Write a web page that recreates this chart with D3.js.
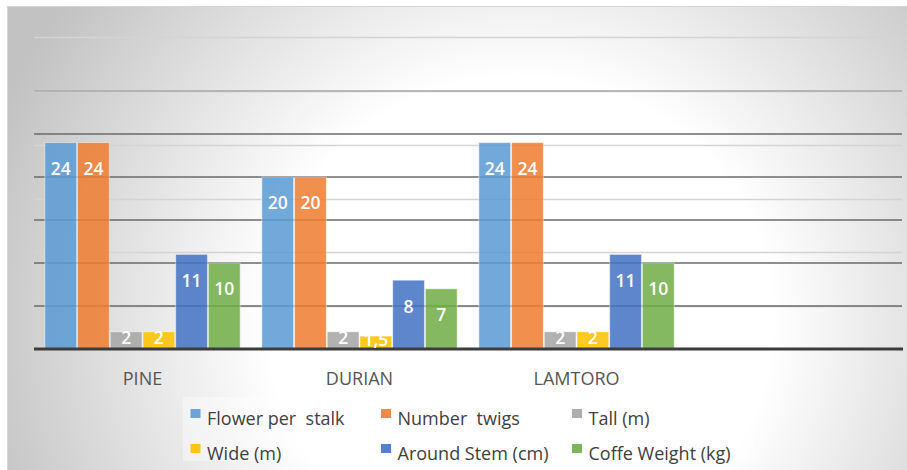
<!DOCTYPE html>
<html>
<head>
<meta charset="utf-8">
<script src="https://cdn.jsdelivr.net/npm/d3@7"></script>
<style>
  html, body { margin: 0; padding: 0; background: #ffffff; }
  svg { display: block; }
  text { font-family: "Open Sans", "Noto Sans", sans-serif; }
</style>
</head>
<body>
<svg id="chart" width="907" height="470"></svg>
<script>
// ---- data ----
const categories = ["PINE", "DURIAN", "LAMTORO", ""];
const seriesNames = ["Flower per  stalk", "Number  twigs", "Tall (m)", "Wide (m)", "Around Stem (cm)", "Coffe Weight (kg)"];
const seriesColors = ["#5B9BD5", "#ED7D31", "#A5A5A5", "#FFC000", "#4472C4", "#70AD47"];
const flowerPerStalk = [24, 20, 24, null];
const numberTwigs    = [24, 20, 24, null];
const tallM          = [2, 2, 2, null];
const wideM          = [2, 1.5, 2, null];
const aroundStemCm   = [11, 8, 11, null];
const coffeWeightKg  = [10, 7, 10, null];
const seriesValues = [flowerPerStalk, numberTwigs, tallM, wideM, aroundStemCm, coffeWeightKg];
const majorGrid = [5, 10, 15, 20, 25];
const topGrid = [30];
const minorGrid = [5, 11.25, 17.5, 23.75, 30, 36.25];

// ---- layout ----
const W = 907, H = 470;
const plotL = 34, plotR = 902, baseY = 349;
const svg = d3.select("#chart");

// background radial gradient
const defs = svg.append("defs");
const grad = defs.append("radialGradient")
  .attr("id", "bg").attr("gradientUnits", "userSpaceOnUse")
  .attr("cx", 0).attr("cy", 0).attr("r", 1)
  .attr("gradientTransform", "translate(520,320) scale(560,540)");
grad.append("stop").attr("offset", 0).attr("stop-color", "#ffffff");
grad.append("stop").attr("offset", 0.45).attr("stop-color", "#ffffff");
grad.append("stop").attr("offset", 1).attr("stop-color", "#c2c2c2");

svg.append("rect").attr("x", 7.5).attr("y", 6.5).attr("width", W - 7).attr("height", H - 6)
  .attr("fill", "url(#bg)").attr("stroke", "#d6d6d6").attr("stroke-width", 1);

const x0 = d3.scaleBand().domain(categories).range([plotL, plotR]).paddingInner(0.1).paddingOuter(0.05);
const x1 = d3.scaleBand().domain(seriesNames).range([0, x0.bandwidth()]).paddingInner(0.03);
const y = d3.scaleLinear().domain([0, 30]).range([baseY, 91]);

// gridlines
svg.append("g").selectAll("line").data(minorGrid).join("line")
  .attr("x1", plotL).attr("x2", plotR)
  .attr("y1", d => Math.round(y(d)) + 0.5).attr("y2", d => Math.round(y(d)) + 0.5)
  .attr("stroke", "#d4d4d4").attr("stroke-width", 1.3);
svg.append("g").selectAll("line").data(topGrid).join("line")
  .attr("x1", plotL).attr("x2", plotR)
  .attr("y1", d => y(d)).attr("y2", d => y(d))
  .attr("stroke", "#a9a9a9").attr("stroke-width", 1.4);
svg.append("g").selectAll("line").data(majorGrid).join("line")
  .attr("x1", plotL).attr("x2", plotR)
  .attr("y1", d => y(d)).attr("y2", d => y(d))
  .attr("stroke", "#6a6a6a").attr("stroke-width", 1.7);

// bars
const barData = [];
categories.forEach((c, ci) => {
  seriesNames.forEach((s, si) => {
    const v = seriesValues[si][ci];
    if (v != null) barData.push({ c, s, si, v });
  });
});

const bars = svg.append("g");
bars.selectAll("rect").data(barData).join("rect")
  .attr("x", d => x0(d.c) + x1(d.s))
  .attr("y", d => y(d.v))
  .attr("width", x1.bandwidth())
  .attr("height", d => baseY - y(d.v))
  .attr("fill", d => seriesColors[d.si])
  .attr("fill-opacity", 0.86)
  .attr("stroke", "rgba(255,255,255,0.45)")
  .attr("stroke-width", 1);

// baseline axis
svg.append("g").attr("transform", `translate(0,${baseY})`)
  .call(d3.axisBottom(x0).tickSize(0).tickFormat(""))
  .call(g => g.select(".domain").attr("stroke", "#3c3c3c").attr("stroke-width", 3)
    .attr("d", `M${plotL},0H${plotR + 1}`));

// data labels
const fmt = v => String(v).replace(".", ",");
svg.append("g").selectAll("text").data(barData).join("text")
  .attr("x", d => x0(d.c) + x1(d.s) + x1.bandwidth() / 2)
  .attr("y", d => {
    const top = y(d.v);
    return Math.min(top + 26, (top + baseY) / 2 - 3);
  })
  .attr("dy", "0.36em")
  .attr("text-anchor", "middle")
  .attr("fill", "#ffffff")
  .attr("font-weight", 600)
  .attr("font-size", 17.5)
  .text(d => fmt(d.v));

// category labels
svg.append("g").selectAll("text").data(categories).join("text")
  .attr("x", d => x0(d) + x0.bandwidth() / 2)
  .attr("y", 385)
  .attr("text-anchor", "middle")
  .attr("fill", "#555555")
  .attr("font-size", 18)
  .text(d => d);

// legend
const legend = svg.append("g");
legend.append("rect").attr("x", 183).attr("y", 397).attr("width", 571).attr("height", 64)
  .attr("fill", "rgba(255,255,255,0.38)");
const colX = [190.5, 381, 572];
const rowY = [409, 444];
const items = legend.selectAll("g.item").data(seriesNames).join("g").attr("class", "item")
  .attr("transform", (d, i) => `translate(${colX[i % 3]},${rowY[Math.floor(i / 3)]})`);
items.append("rect").attr("width", 10).attr("height", 9)
  .attr("fill", (d, i) => seriesColors[i]).attr("fill-opacity", 0.9);
items.append("text").attr("x", 16.5).attr("y", 16)
  .attr("fill", "#404040").attr("font-size", 18)
  .style("white-space", "pre")
  .text(d => d);
</script>
</body>
</html>
